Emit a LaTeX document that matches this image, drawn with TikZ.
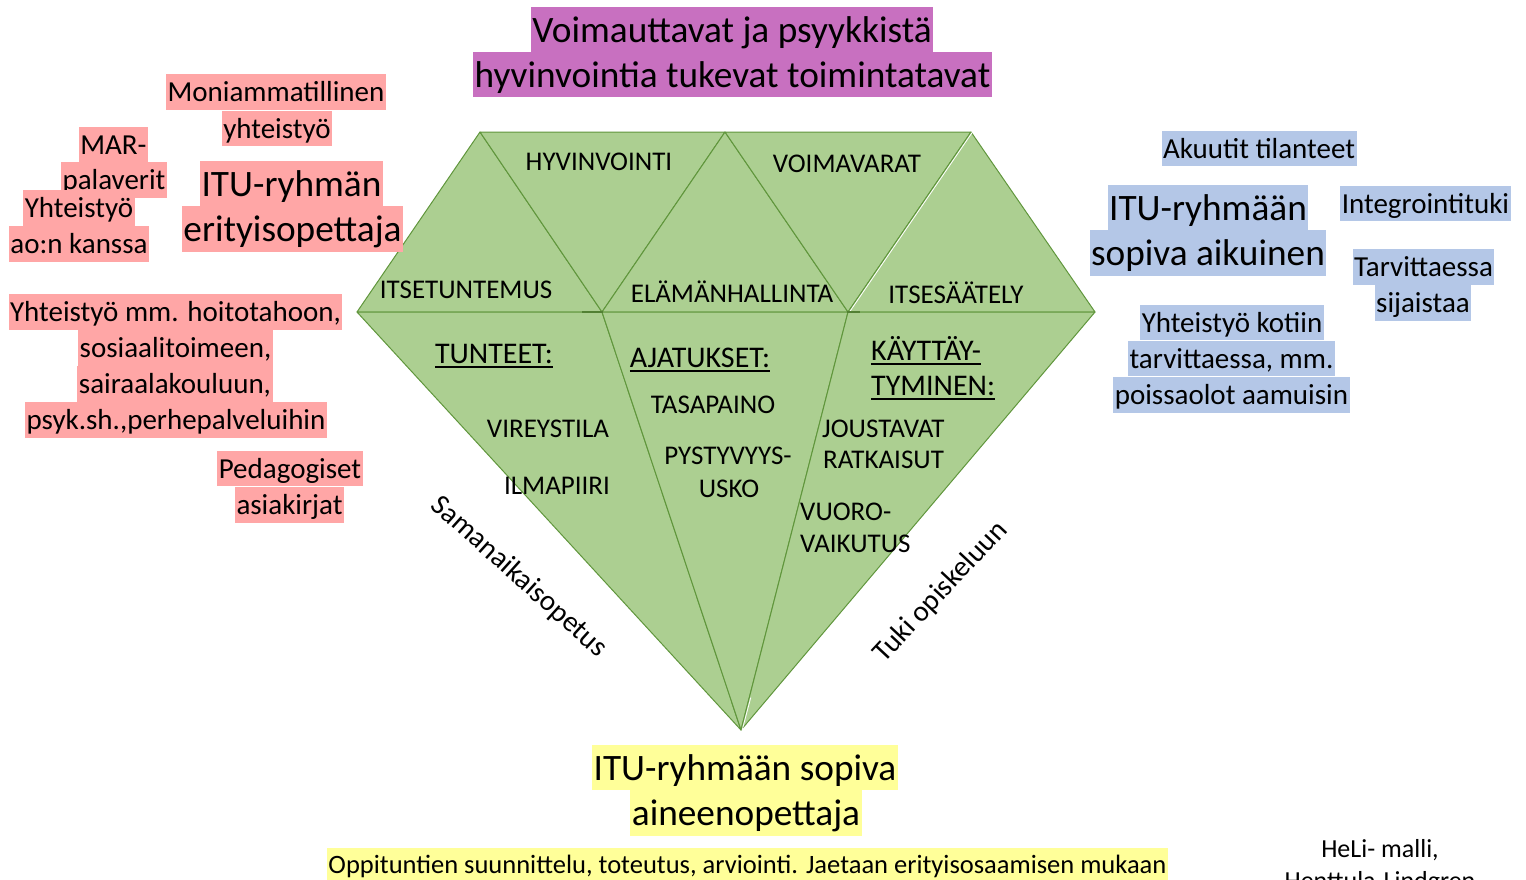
\documentclass[tikz,border=0pt]{standalone}
\usepackage{fontspec}
\usetikzlibrary{calc}
\setmainfont{Carlito}
\definecolor{pinkc}{RGB}{255,166,166}
\definecolor{bluec}{RGB}{180,199,231}
\definecolor{yellowc}{RGB}{255,255,153}
\definecolor{purplec}{RGB}{200,112,192}
\definecolor{gemfill}{RGB}{172,207,145}
\definecolor{gemedge}{RGB}{96,150,60}
\newcommand\myul[1]{\setbox0\hbox{#1}\rlap{\rule[-4.5pt]{\wd0}{1.8pt}}\box0}
\tikzset{
  hl/.style={inner xsep=1.5pt, inner ysep=0pt, anchor=center},
  sbig/.style={font=\fontsize{37.3}{44}\selectfont, text height=35.5pt, text depth=10pt},
  smid/.style={font=\fontsize{29}{35}\selectfont, text height=27.6pt, text depth=7.8pt},
  ssmall/.style={font=\fontsize{26.5}{32}\selectfont, text height=25.2pt, text depth=7.1pt},
  pinkhl/.style={hl, fill=pinkc},
  bluehl/.style={hl, fill=bluec},
  yellowhl/.style={hl, fill=yellowc},
  purplehl/.style={hl, fill=purplec},
  facet/.style={fill=gemfill, draw=gemedge, line width=1pt, line join=round},
  glabel/.style={inner sep=0pt, anchor=base, font=\fontsize{27}{32}\selectfont},
  glabelw/.style={inner sep=0pt, anchor=base west, font=\fontsize{27}{32}\selectfont},
  ghead/.style={inner sep=0pt, anchor=base, font=\fontsize{30}{36}\selectfont},
  gheadw/.style={inner sep=0pt, anchor=base west, font=\fontsize{30}{36}\selectfont},
  plain/.style={inner sep=0pt, font=\fontsize{26}{31}\selectfont},
  slanted/.style={inner sep=0pt, font=\fontsize{29}{35}\selectfont}
}
\begin{document}
\begin{tikzpicture}[x=1pt,y=-1pt]
\useasboundingbox (0,0) rectangle (1526,879);
% gem coordinates
\coordinate (t1) at (480,132);
\coordinate (t2) at (725,132);
\coordinate (t3) at (971,132);
\coordinate (m0) at (357,312);
\coordinate (m1) at (602,312);
\coordinate (m2) at (848,312);
\coordinate (m3) at (1095,312);
\coordinate (ap) at (741,730);
% upper facets
\draw[facet] (t1) -- (m0) -- (m1) -- cycle;
\draw[facet] (t1) -- (t2) -- (m1) -- cycle;
\draw[facet] (t2) -- (m1) -- (m2) -- cycle;
\draw[facet] (t2) -- (t3) -- (m2) -- cycle;
\draw[facet] (t3) -- (m2) -- (m3) -- cycle;
% lower facets
\draw[facet] (m0) -- (m1) -- (ap) -- cycle;
\draw[facet] (m1) -- (m2) -- (ap) -- cycle;
\draw[facet] (m2) -- (m3) -- (ap) -- cycle;
\draw[white, line width=0.8pt] ([xshift=1.5pt]t3) -- ([xshift=1.5pt]m2);
\draw[white, line width=0.8pt] ([xshift=1.2pt,yshift=-1pt]$(ap)!0.08!(m2)$) -- ([xshift=1.2pt]ap);
\draw[gemedge!85!black, line width=2pt] ([xshift=-20pt]m1) -- ([xshift=1pt]m1);
\draw[gemedge!85!black, line width=2pt] ([xshift=-1pt]m2) -- ([xshift=12pt]m2);
% gem labels
\node[glabel] (hyv) at (599,170) {HYVINVOINTI};
\node[glabel] (voi) at (847,172) {VOIMAVARAT};
\node[glabel] (its) at (466,298) {ITSETUNTEMUS};
\node[glabel] (ela) at (732,302) {ELÄMÄNHALLINTA};
\node[glabel] (isa) at (956,303) {ITSESÄÄTELY};
\node[ghead] (tun) at (494,363) {\myul{TUNTEET:}};
\node[ghead] (aja) at (700,367) {\myul{AJATUKSET:}};
\node[gheadw] (kay1) at (871,360) {\myul{KÄYTTÄY-}};
\node[gheadw] (kay2) at (871,395) {\myul{TYMINEN:}};
\node[glabel] (tas) at (713,413) {TASAPAINO};
\node[glabel] (vir) at (548,437) {VIREYSTILA};
\node[glabel] (ilm) at (557,494) {ILMAPIIRI};
\node[glabel] (pys1) at (728,464) {PYSTYVYYS-};
\node[glabel] (pys2) at (729,497) {USKO};
\node[glabelw] (jou1) at (822,437) {JOUSTAVAT};
\node[glabelw] (jou2) at (823,468) {RATKAISUT};
\node[glabelw] (vuo1) at (800,520) {VUORO-};
\node[glabelw] (vuo2) at (800,552) {VAIKUTUS};
\node[slanted, rotate=-42] (sam) at (519,577) {Samanaikaisopetus};
\node[slanted, rotate=47] (tuk) at (941,592) {Tuki opiskeluun};
% title
\node[purplehl, sbig] (ti1) at (732,30) {Voimauttavat ja psyykkistä};
\node[purplehl, sbig] (ti2) at (732.5,74.5) {hyvinvointia tukevat toimintatavat};
% pink
\node[pinkhl, smid] (p1a) at (276,92) {Moniammatillinen};
\node[pinkhl, smid] (p1b) at (277,128.5) {yhteistyö};
\node[pinkhl, smid] (p2a) at (113.5,145) {MAR-};
\node[pinkhl, smid] (p2b) at (114,180) {palaverit};
\node[pinkhl, smid] (p3a) at (79,208) {Yhteistyö};
\node[pinkhl, smid] (p3b) at (79,244) {ao:n kanssa};
\node[pinkhl, sbig] (p4a) at (291.5,183.5) {ITU-ryhmän};
\node[pinkhl, sbig] (p4b) at (292.5,229) {erityisopettaja};
\node[pinkhl, smid] (p5a) at (175.5,312) {Yhteistyö mm. hoitotahoon,};
\node[pinkhl, smid] (p5b) at (175.5,348) {sosiaalitoimeen,};
\node[pinkhl, smid] (p5c) at (175,384) {sairaalakouluun,};
\node[pinkhl, smid] (p5d) at (176,420) {psyk.sh.,perhepalveluihin};
\node[pinkhl, smid] (p6a) at (290,468.5) {Pedagogiset};
\node[pinkhl, smid] (p6b) at (289.5,505) {asiakirjat};
% blue
\node[bluehl, smid] (b1) at (1259,148.5) {Akuutit tilanteet};
\node[bluehl, sbig] (b2a) at (1208,207.5) {ITU-ryhmään};
\node[bluehl, sbig] (b2b) at (1208,253) {sopiva aikuinen};
\node[bluehl, smid] (b3) at (1425.5,203.5) {Integrointituki};
\node[bluehl, smid] (b4a) at (1423.5,267) {Tarvittaessa};
\node[bluehl, smid] (b4b) at (1423,303) {sijaistaa};
\node[bluehl, smid] (b5a) at (1232,322.5) {Yhteistyö kotiin};
\node[bluehl, smid] (b5b) at (1231.5,358.5) {tarvittaessa, mm.};
\node[bluehl, smid] (b5c) at (1231.5,395) {poissaolot aamuisin};
% yellow
\node[yellowhl, sbig] (y1a) at (745,767.5) {ITU-ryhmään sopiva};
\node[yellowhl, sbig] (y1b) at (746,813) {aineenopettaja};
\node[yellowhl, ssmall] (y2) at (747.5,864) {Oppituntien suunnittelu, toteutus, arviointi. Jaetaan erityisosaamisen mukaan};
% credit
\node[plain, anchor=base] (heli1) at (1380,857) {HeLi- malli,};
\node[plain, anchor=base] (heli2) at (1380,889) {Henttula-Lindgren};
\end{tikzpicture}
\end{document}
